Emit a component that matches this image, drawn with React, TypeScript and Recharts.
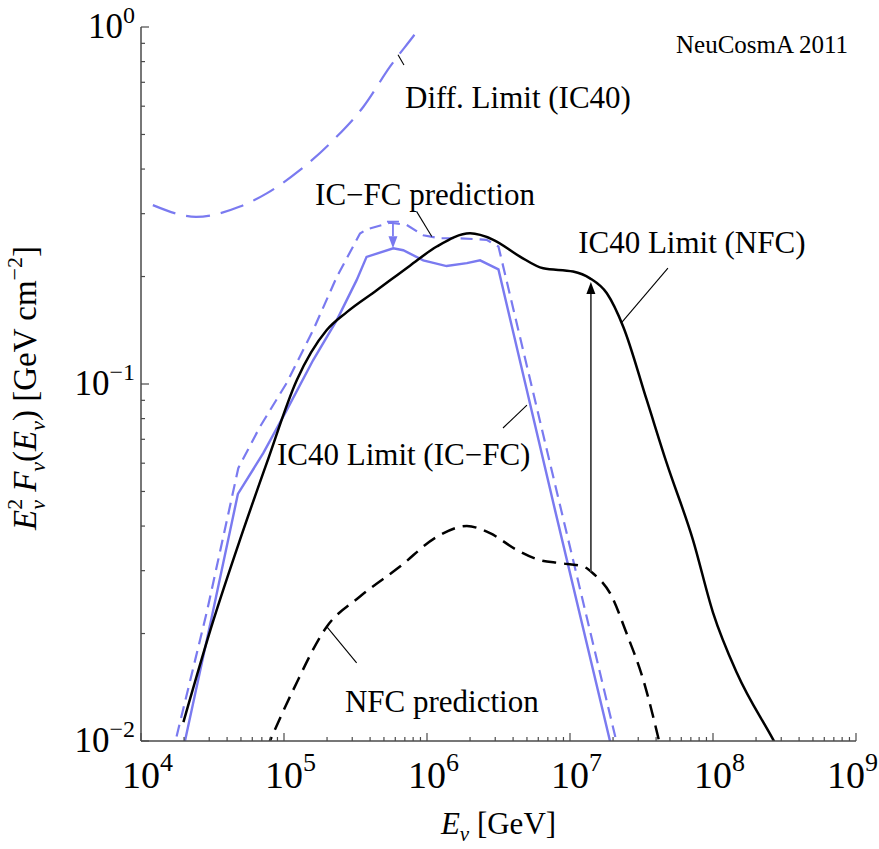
import React from "react";
import {
  ComposedChart,
  Line,
  XAxis,
  YAxis,
  ReferenceLine,
  ReferenceDot,
  Label,
} from "recharts";

const SERIF = '"Liberation Serif", "Times New Roman", serif';
const BLUE = "#7a7af0";
const FRAME = "#4a4a4a";

// axis decades (tick labels are 10^n) and the minor steps inside a decade
const xDecades = [4, 5, 6, 7, 8, 9];
const yDecades = [-2, -1, 0];
const minorSteps = [1, 2, 3, 4, 5, 6, 7, 8, 9];

// IC40 limit, NFC model (black solid)
const nfcLimitE = [1.98e4, 3.21e4, 4.92e4, 7.57e4, 1.23e5, 1.99e5, 2.75e5, 4.45e5, 7.6e5, 1.17e6, 2.0e6, 2.91e6, 4.47e6, 6.5e6, 1.05e7, 1.38e7, 1.81e7, 2.36e7, 3.44e7, 4.74e7, 7.24e7, 1.0e8, 1.47e8, 2.63e8, 2.94e8];
const nfcLimitF = [0.0113, 0.0218, 0.0366, 0.06, 0.1026, 0.1416, 0.159, 0.183, 0.2145, 0.2427, 0.2642, 0.2535, 0.2275, 0.2109, 0.2065, 0.1977, 0.1795, 0.1445, 0.0902, 0.0601, 0.0366, 0.0229, 0.0155, 0.0101, 0.0093];

// NFC prediction (black dashed)
const nfcPredE = [7.48e4, 1.16e5, 1.99e5, 3.4e5, 6.47e5, 1.17e6, 1.9e6, 2.76e6, 4.24e6, 6.17e6, 8.51e6, 1.24e7, 1.46e7, 1.91e7, 2.49e7, 3.26e7, 4.26e7];
const nfcPredF = [0.00944, 0.0139, 0.0209, 0.0254, 0.0308, 0.0373, 0.04, 0.0382, 0.0343, 0.0321, 0.0315, 0.0308, 0.0294, 0.0259, 0.02, 0.0148, 0.00975];

// IC40 limit, IC-FC model (blue solid)
const icfcLimitE = [1.9e4, 2.03e4, 3.09e4, 4.76e4, 7.16e4, 1.045e5, 1.6e5, 2.34e5, 3.22e5, 3.78e5, 5.81e5, 6.82e5, 9.42e5, 1.37e6, 1.9e6, 2.35e6, 3.16e6, 7.85e6, 1.97e7];
const icfcLimitF = [0.00885, 0.01, 0.0218, 0.0492, 0.064, 0.0845, 0.1167, 0.151, 0.1954, 0.227, 0.24, 0.237, 0.222, 0.214, 0.218, 0.222, 0.2094, 0.0444, 0.00944];

// IC-FC prediction (blue dashed)
const icfcPredE = [1.65e4, 2.88e4, 4.79e4, 6.79e4, 1.045e5, 1.6e5, 2.34e5, 3.4e5, 3.78e5, 5.51e5, 7.21e5, 9.42e5, 1.23e6, 1.7e6, 2.61e6, 3.16e6, 8.51e6, 2.2e7];
const icfcPredF = [0.00914, 0.0229, 0.0581, 0.0759, 0.1007, 0.1416, 0.1995, 0.264, 0.271, 0.283, 0.279, 0.261, 0.256, 0.256, 0.2535, 0.2427, 0.0458, 0.0093];

// differential limit IC40 (blue long dashes)
const diffLimitE = [1.21e4, 2.43e4, 4.92e4, 7.57e4, 1.29e5, 2.21e5, 3.59e5, 5.51e5, 8.93e5, 1.0e6];
const diffLimitF = [0.317, 0.294, 0.314, 0.342, 0.397, 0.482, 0.598, 0.774, 1.0, 1.07];

const zip = (e: number[], f: number[]) => e.map((v, i) => ({ e: v, f: f[i] }));

const nfcLimit = zip(nfcLimitE, nfcLimitF);
const nfcPred = zip(nfcPredE, nfcPredF);
const icfcLimit = zip(icfcLimitE, icfcLimitF);
const icfcPred = zip(icfcPredE, icfcPredF);
const diffLimit = zip(diffLimitE, diffLimitF);

const buildTicks = (decades: number[]) => {
  const out: number[] = [];
  decades.forEach((d, i) => {
    if (i === decades.length - 1) {
      out.push(Math.pow(10, d));
      return;
    }
    minorSteps.forEach((m) => out.push(m * Math.pow(10, d)));
  });
  return out;
};
const xTicks = buildTicks(xDecades);
const yTicks = buildTicks(yDecades);

const decadeOf = (v: number) => {
  const l = Math.log10(v);
  return Math.abs(l - Math.round(l)) < 1e-6 ? Math.round(l) : null;
};
const expText = (n: number) => (n < 0 ? `\u2212${-n}` : `${n}`);

const MAJOR = 8;
const MINOR = 4;
const lastX = xDecades[xDecades.length - 1];

function tickFor(side: "bottom" | "top" | "left" | "right") {
  return (p: any) => {
    const { x, y, payload } = p;
    const d = decadeOf(payload.value);
    const len = d === null ? MINOR : MAJOR;
    let line;
    if (side === "bottom") line = <line x1={x} x2={x} y1={y} y2={y - len} />;
    else if (side === "top") line = <line x1={x} x2={x} y1={y} y2={y + len} />;
    else if (side === "left") line = <line x1={x} x2={x + len} y1={y} y2={y} />;
    else line = <line x1={x} x2={x - len} y1={y} y2={y} />;
    // "10" is centred on the tick; the last label is nudged so it stays on the page
    const shift = d === lastX ? -10 : 0;
    return (
      <g stroke={FRAME} strokeWidth={1.2}>
        {line}
        {d !== null && side === "bottom" && (
          <text x={x - 19 + shift} y={y + 47} textAnchor="start" fontFamily={SERIF} fontSize={38} fill="#000" stroke="none">
            10<tspan fontSize={26} dy={-17}>{expText(d)}</tspan>
          </text>
        )}
        {d !== null && side === "left" && (
          <text x={x - 6} y={y + 11} textAnchor="end" fontFamily={SERIF} fontSize={35} fill="#000" stroke="none">
            10<tspan fontSize={24} dy={-15}>{expText(d)}</tspan>
          </text>
        )}
      </g>
    );
  };
}

function arrowShape(color: string, headColor: string, width: number, cap: boolean) {
  return (p: any) => {
    const x1 = Number(p.x1), y1 = Number(p.y1), x2 = Number(p.x2), y2 = Number(p.y2);
    const ang = Math.atan2(y2 - y1, x2 - x1);
    const L = 12, W = 4.5;
    const bx = x2 - L * Math.cos(ang);
    const by = y2 - L * Math.sin(ang);
    const nx = -Math.sin(ang) * W;
    const ny = Math.cos(ang) * W;
    return (
      <g>
        <line x1={x1} y1={y1} x2={bx} y2={by} stroke={color} strokeWidth={width} />
        <polygon points={`${x2},${y2} ${bx + nx},${by + ny} ${bx - nx},${by - ny}`} fill={headColor} />
        {cap && <line x1={x1 - 6} x2={x1 + 6} y1={y1} y2={y1} stroke={color} strokeWidth={width} />}
      </g>
    );
  };
}

function textAt(label: string, size: number, anchor: "start" | "end" = "start") {
  return (p: any) => (
    <text x={p.cx} y={p.cy} fontFamily={SERIF} fontSize={size} textAnchor={anchor} fill="#000">
      {label}
    </text>
  );
}

// annotation labels [energy, flux] at the text baseline start
const annotations: { text: string; e: number; f: number; size: number; anchor?: "start" | "end" }[] = [
  { text: "Diff. Limit (IC40)", e: 7.02e5, f: 0.593, size: 31 },
  { text: "IC\u2212FC prediction", e: 1.65e5, f: 0.317, size: 31 },
  { text: "IC40 Limit (NFC)", e: 1.14e7, f: 0.233, size: 31 },
  { text: "IC40 Limit (IC\u2212FC)", e: 8.93e4, f: 0.0593, size: 31 },
  { text: "NFC prediction", e: 2.67e5, f: 0.01205, size: 31 },
  { text: "NeuCosmA 2011", e: 8.79e8, f: 0.845, size: 25, anchor: "end" },
];

// leader lines from labels to curves
const leaders: [number, number, number, number][] = [
  [6.27e5, 0.836, 6.9e5, 0.783],
  [8.47e5, 0.304, 1.08e6, 0.259],
  [4.84e7, 0.211, 2.31e7, 0.149],
  [3.4e6, 0.0753, 5.0e6, 0.0873],
  [3.22e5, 0.01656, 1.99e5, 0.0209],
];

const XTitle = (p: any) => {
  const vb = p.viewBox || { x: 141, y: 741, width: 715 };
  const cx = vb.x + vb.width / 2;
  const y = vb.y + 93;
  return (
    <text x={cx} y={y} textAnchor="middle" fontFamily={SERIF} fontSize={31}>
      <tspan fontStyle="italic">E</tspan>
      <tspan fontSize={21} fontStyle="italic" dy={7}>ν</tspan>
      <tspan dy={-7}> [GeV]</tspan>
    </text>
  );
};

const YTitle = (p: any) => {
  const vb = p.viewBox || { x: 0, y: 27, width: 141, height: 714 };
  const cx = vb.x + 36;
  const cy = vb.y + vb.height / 2 + 4;
  return (
    <text transform={`translate(${cx},${cy}) rotate(-90)`} textAnchor="middle" fontFamily={SERIF} fontSize={33}>
      <tspan fontStyle="italic">E</tspan>
      <tspan fontSize={22} dy={-14}>2</tspan>
      <tspan fontSize={22} fontStyle="italic" dx={-11} dy={23}>ν</tspan>
      <tspan dy={-9}> </tspan>
      <tspan fontStyle="italic">F</tspan>
      <tspan fontSize={22} fontStyle="italic" dy={9}>ν</tspan>
      <tspan dy={-9}>(</tspan>
      <tspan fontStyle="italic">E</tspan>
      <tspan fontSize={22} fontStyle="italic" dy={9}>ν</tspan>
      <tspan dy={-9}>) [GeV cm</tspan>
      <tspan fontSize={22} dy={-14}>{"\u22122"}</tspan>
      <tspan dy={14}>]</tspan>
    </text>
  );
};

export default function App() {
  const frame = { stroke: FRAME, strokeWidth: 1.5 };
  return (
    <div style={{ position: "fixed", left: 0, top: 0, width: 879, height: 849, background: "#fff" }}>
      <ComposedChart width={879} height={849} margin={{ top: 27, right: 23, bottom: 0, left: 0 }}>
        <XAxis
          type="number"
          dataKey="e"
          scale="log"
          domain={[1e4, 1e9]}
          allowDataOverflow
          ticks={xTicks}
          interval={0}
          tick={tickFor("bottom")}
          tickSize={0}
          tickMargin={0}
          tickLine={false}
          axisLine={frame}
          height={108}
        >
          <Label content={XTitle} />
        </XAxis>
        <XAxis
          xAxisId="top"
          orientation="top"
          type="number"
          dataKey="e"
          scale="log"
          domain={[1e4, 1e9]}
          allowDataOverflow
          ticks={xTicks}
          interval={0}
          tick={tickFor("top")}
          tickSize={0}
          tickMargin={0}
          tickLine={false}
          axisLine={frame}
          height={0}
        />
        <YAxis
          type="number"
          dataKey="f"
          scale="log"
          domain={[0.01, 1]}
          allowDataOverflow
          ticks={yTicks}
          interval={0}
          tick={tickFor("left")}
          tickSize={0}
          tickMargin={0}
          tickLine={false}
          axisLine={frame}
          width={141}
        >
          <Label content={YTitle} />
        </YAxis>
        <YAxis
          yAxisId="right"
          orientation="right"
          type="number"
          dataKey="f"
          scale="log"
          domain={[0.01, 1]}
          allowDataOverflow
          ticks={yTicks}
          interval={0}
          tick={tickFor("right")}
          tickSize={0}
          tickMargin={0}
          tickLine={false}
          axisLine={frame}
          width={0}
        />

        <Line data={diffLimit} dataKey="f" type="monotone" stroke={BLUE} strokeWidth={2.2} strokeDasharray="24 11" dot={false} isAnimationActive={false} />
        <Line data={icfcPred} dataKey="f" type="linear" stroke={BLUE} strokeWidth={2.2} strokeDasharray="12 7" dot={false} isAnimationActive={false} />
        <Line data={icfcLimit} dataKey="f" type="linear" stroke={BLUE} strokeWidth={2.4} dot={false} isAnimationActive={false} />
        <Line data={nfcPred} dataKey="f" type="monotone" stroke="#000" strokeWidth={2.5} strokeDasharray="14 8" dot={false} isAnimationActive={false} />
        <Line data={nfcLimit} dataKey="f" type="monotone" stroke="#000" strokeWidth={2.5} dot={false} isAnimationActive={false} />

        <ReferenceLine
          segment={[{ x: 5.78e5, y: 0.285 }, { x: 5.78e5, y: 0.24 }]}
          ifOverflow="visible"
          shape={arrowShape(BLUE, BLUE, 1.8, true)}
        />
        <ReferenceLine
          segment={[{ x: 1.4e7, y: 0.0298 }, { x: 1.4e7, y: 0.193 }]}
          ifOverflow="visible"
          shape={arrowShape("#444", "#000", 1.8, false)}
        />

        {leaders.map((l, i) => (
          <ReferenceLine
            key={`ld${i}`}
            segment={[{ x: l[0], y: l[1] }, { x: l[2], y: l[3] }]}
            stroke="#000"
            strokeWidth={1.1}
            ifOverflow="visible"
          />
        ))}

        {annotations.map((a, i) => (
          <ReferenceDot
            key={`an${i}`}
            x={a.e}
            y={a.f}
            r={0}
            ifOverflow="visible"
            shape={textAt(a.text, a.size, a.anchor)}
          />
        ))}
      </ComposedChart>
    </div>
  );
}
